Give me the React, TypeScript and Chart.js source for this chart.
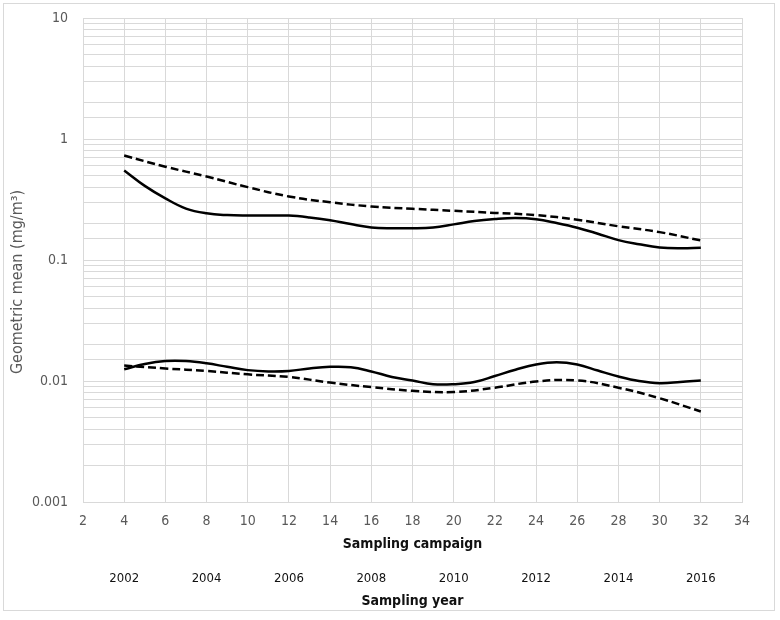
import React, { useEffect, useRef } from 'react';
import { Chart, registerables } from 'chart.js';

Chart.register(...registerables);

// Campaign numbers (every campaign) for the solid series
const campaigns = [4, 5, 6, 7, 8, 9, 10, 11, 12, 13, 14, 15, 16, 17, 18, 19, 20, 21, 22, 23, 24, 25, 26, 27, 28, 29, 30, 31, 32];
const upperSolid = [0.55, 0.41, 0.323, 0.266, 0.243, 0.235, 0.233, 0.233, 0.233, 0.225, 0.213, 0.198, 0.186, 0.183, 0.183, 0.186, 0.197, 0.21, 0.218, 0.222, 0.217, 0.202, 0.185, 0.165, 0.146, 0.135, 0.127, 0.125, 0.126];
const lowerSolid = [0.0125, 0.0138, 0.0146, 0.0146, 0.014, 0.0131, 0.0123, 0.012, 0.0121, 0.0127, 0.0131, 0.013, 0.012, 0.0108, 0.0101, 0.0094, 0.0094, 0.0098, 0.011, 0.0124, 0.0137, 0.0143, 0.0137, 0.0122, 0.0109, 0.01, 0.0096, 0.0098, 0.0101];

// Even campaigns for the dashed series
const evenCampaigns = [4, 6, 8, 10, 12, 14, 16, 18, 20, 22, 24, 26, 28, 30, 32];
const upperDashed = [0.73, 0.59, 0.49, 0.4, 0.335, 0.3, 0.277, 0.265, 0.255, 0.245, 0.235, 0.215, 0.19, 0.17, 0.145];
const lowerDashed = [0.0134, 0.0127, 0.0121, 0.01135, 0.0108, 0.0097, 0.0089, 0.0083, 0.0081, 0.0088, 0.0099, 0.0101, 0.0088, 0.0072, 0.0056];

// Secondary axis: sampling year labels placed at campaign positions
const yearTickCampaigns = [4, 8, 12, 16, 20, 24, 28, 32];
const yearLabels = ['2002', '2004', '2006', '2008', '2010', '2012', '2014', '2016'];

// Y axis labelled decades
const yTickValues = [0.001, 0.01, 0.1, 1, 10];
const yTickLabels = ['0.001', '0.01', '0.1', '1', '10'];
const yTitle = 'Geometric mean (mg/m³)';

const FONT = '"Liberation Sans Narrow", "DejaVu Sans Condensed", "Open Sans", sans-serif';

// Y-axis title drawn slightly below the plot centre, as in the reference
const yTitlePlugin = {
  id: 'yTitle',
  afterDraw(chart: any) {
    const ctx = chart.ctx;
    ctx.save();
    ctx.translate(14, 278);
    ctx.rotate(-Math.PI / 2);
    ctx.font = `16px ${FONT}`;
    ctx.fillStyle = '#595959';
    ctx.textAlign = 'center';
    ctx.textBaseline = 'middle';
    ctx.fillText(yTitle, 0, 0);
    ctx.restore();
  },
};

export default function App() {
  const ref = useRef<HTMLCanvasElement>(null);

  useEffect(() => {
    const pts = (xs: number[], ys: number[]) => xs.map((x, i) => ({ x, y: ys[i] }));
    const base = { borderColor: '#000', borderWidth: 2.5, pointRadius: 0, tension: 0.4, fill: false, xAxisID: 'x', yAxisID: 'y' };
    const chart = new Chart(ref.current!, {
      type: 'line',
      data: {
        datasets: [
          { ...base, label: 'upper solid', data: pts(campaigns, upperSolid) },
          { ...base, label: 'upper dashed', data: pts(evenCampaigns, upperDashed), borderDash: [8, 4] },
          { ...base, label: 'lower solid', data: pts(campaigns, lowerSolid) },
          { ...base, label: 'lower dashed', data: pts(evenCampaigns, lowerDashed), borderDash: [8, 4] },
        ] as any,
      },
      plugins: [yTitlePlugin],
      options: {
        animation: false,
        responsive: false,
        maintainAspectRatio: false,
        layout: { padding: { left: 0, top: 14, right: 32, bottom: 0 } },
        plugins: { legend: { display: false }, tooltip: { enabled: false } },
        scales: {
          x: {
            type: 'linear',
            position: 'bottom',
            weight: 1,
            min: 2,
            max: 34,
            ticks: { stepSize: 2, padding: 11, color: '#595959', font: { family: FONT, size: 14 } },
            grid: { color: '#d9d9d9', drawTicks: false },
            border: { color: '#d9d9d9' },
            title: { display: true, text: 'Sampling campaign', color: '#111', font: { family: FONT, size: 14, weight: 'bold' }, padding: { top: 0, bottom: 3 } },
            afterFit: (s: any) => { s.height = 54; },
          },
          x2: {
            type: 'linear',
            position: 'bottom',
            weight: 2,
            min: 2,
            max: 34,
            afterBuildTicks: (s: any) => { s.ticks = yearTickCampaigns.map((v) => ({ value: v })); },
            ticks: {
              autoSkip: false,
              padding: 15,
              color: '#111',
              font: { family: FONT, size: 13 },
              callback: (v: any) => yearLabels[yearTickCampaigns.indexOf(Number(v))] ?? '',
            },
            grid: { display: false, drawTicks: false },
            border: { display: false },
            title: { display: true, text: 'Sampling year', color: '#111', font: { family: FONT, size: 14, weight: 'bold' }, padding: { top: 0, bottom: 0 } },
            afterFit: (s: any) => { s.height = 54; },
          },
          y: {
            type: 'logarithmic',
            min: 0.001,
            max: 10,
            ticks: {
              autoSkip: false,
              padding: 15,
              color: '#595959',
              font: { family: FONT, size: 14 },
              callback: (v: any) => {
                const n = Number(v);
                const idx = yTickValues.findIndex((t) => Math.abs(n - t) / t < 1e-6);
                return idx >= 0 ? yTickLabels[idx] : '';
              },
            },
            grid: { color: '#d9d9d9', drawTicks: false },
            border: { color: '#d9d9d9' },
            title: { display: false },
            afterFit: (s: any) => { s.width = 79; s.paddingTop = 0; s.paddingBottom = 0; },
          },
        },
      } as any,
    });
    return () => chart.destroy();
  }, []);

  return (
    <div style={{ position: 'absolute', left: 3, top: 3, width: 770, height: 606, border: '1px solid #d9d9d9', background: '#fff' }}>
      <canvas ref={ref} width={770} height={606} style={{ display: 'block', width: 770, height: 606 }} />
    </div>
  );
}
